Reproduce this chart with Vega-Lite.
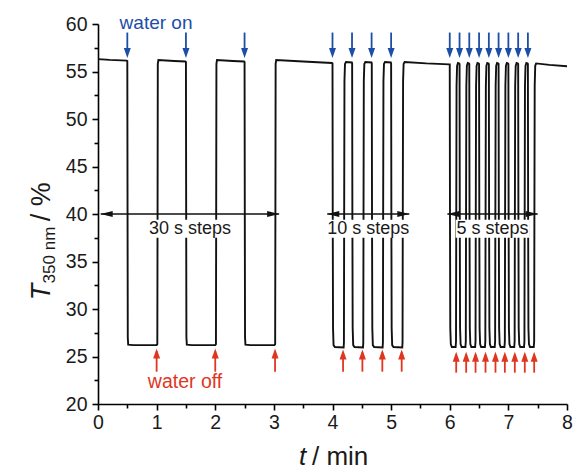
{
"$schema": "https://vega.github.io/schema/vega-lite/v6.json",
"width": 469, "height": 380,
"autosize": {"type": "none"},
"padding": {"left": 98, "top": 24, "right": 6, "bottom": 69},
"background": "white",
"config": {"view": {"stroke": null}, "font": "Liberation Sans"},
"datasets": {
"trace": [
{"t":0,"T":56.3},{"t":0.2,"T":56.22},{"t":0.49,"T":56.15},{"t":0.5,"T":56.1},{"t":0.504,"T":40},{"t":0.508,"T":27},{"t":0.515,"T":26.25},{"t":0.6,"T":26.2},{"t":1.0,"T":26.2},{"t":1.012,"T":26.3},{"t":1.016,"T":40},{"t":1.02,"T":55.8},{"t":1.03,"T":56.2},{"t":1.3,"T":56.1},{"t":1.49,"T":56.05},{"t":1.5,"T":56.0},
{"t":1.504,"T":40},{"t":1.508,"T":27},{"t":1.515,"T":26.25},{"t":1.6,"T":26.2},{"t":2.0,"T":26.2},{"t":2.012,"T":26.3},{"t":2.016,"T":40},{"t":2.02,"T":55.8},{"t":2.03,"T":56.2},{"t":2.3,"T":56.1},{"t":2.49,"T":56.05},{"t":2.5,"T":56.0},
{"t":2.504,"T":40},{"t":2.508,"T":27},{"t":2.515,"T":26.25},{"t":2.6,"T":26.2},{"t":3.01,"T":26.2},{"t":3.022,"T":26.3},{"t":3.026,"T":40},{"t":3.03,"T":55.8},{"t":3.04,"T":56.2},{"t":3.5,"T":56.05},{"t":3.99,"T":55.9},
{"t":4.0,"T":55.85},{"t":4.004,"T":40},{"t":4.009,"T":28},{"t":4.018,"T":26.2},{"t":4.04,"T":26.0},{"t":4.19,"T":25.95},{"t":4.195,"T":26.5},{"t":4.199,"T":40},{"t":4.204,"T":54},{"t":4.213,"T":55.8},{"t":4.23,"T":56.0},{"t":4.33,"T":55.95},
{"t":4.335,"T":55.85},{"t":4.339,"T":40},{"t":4.344,"T":28},{"t":4.353,"T":26.2},{"t":4.375,"T":26.0},{"t":4.52,"T":25.95},{"t":4.525,"T":26.5},{"t":4.529,"T":40},{"t":4.534,"T":54},{"t":4.543,"T":55.8},{"t":4.56,"T":56.0},{"t":4.665,"T":55.95},
{"t":4.67,"T":55.85},{"t":4.674,"T":40},{"t":4.679,"T":28},{"t":4.688,"T":26.2},{"t":4.71,"T":26.0},{"t":4.855,"T":25.95},{"t":4.86,"T":26.5},{"t":4.864,"T":40},{"t":4.869,"T":54},{"t":4.878,"T":55.8},{"t":4.895,"T":56.0},{"t":4.995,"T":55.95},
{"t":5.0,"T":55.85},{"t":5.004,"T":40},{"t":5.009,"T":28},{"t":5.018,"T":26.2},{"t":5.04,"T":26.0},{"t":5.19,"T":25.95},{"t":5.195,"T":26.5},{"t":5.199,"T":40},{"t":5.204,"T":54},{"t":5.213,"T":55.8},{"t":5.23,"T":56.0},{"t":5.6,"T":55.85},{"t":5.995,"T":55.75},
{"t":6.0,"T":55.75},{"t":6.004,"T":40},{"t":6.009,"T":28},{"t":6.018,"T":26.3},{"t":6.035,"T":26.0},{"t":6.1,"T":26.0},{"t":6.107,"T":26.6},{"t":6.111,"T":40},{"t":6.116,"T":53.5},{"t":6.125,"T":55.6},{"t":6.14,"T":55.9},{"t":6.162,"T":55.85},
{"t":6.167,"T":55.8},{"t":6.171,"T":40},{"t":6.176,"T":28},{"t":6.185,"T":26.3},{"t":6.202,"T":26.0},{"t":6.267,"T":26.0},{"t":6.274,"T":26.6},{"t":6.278,"T":40},{"t":6.283,"T":53.5},{"t":6.292,"T":55.6},{"t":6.307,"T":55.9},{"t":6.329,"T":55.85},
{"t":6.333,"T":55.8},{"t":6.337,"T":40},{"t":6.342,"T":28},{"t":6.351,"T":26.3},{"t":6.368,"T":26.0},{"t":6.433,"T":26.0},{"t":6.44,"T":26.6},{"t":6.444,"T":40},{"t":6.449,"T":53.5},{"t":6.458,"T":55.6},{"t":6.473,"T":55.9},{"t":6.495,"T":55.85},
{"t":6.5,"T":55.8},{"t":6.504,"T":40},{"t":6.509,"T":28},{"t":6.518,"T":26.3},{"t":6.535,"T":26.0},{"t":6.6,"T":26.0},{"t":6.607,"T":26.6},{"t":6.611,"T":40},{"t":6.616,"T":53.5},{"t":6.625,"T":55.6},{"t":6.64,"T":55.9},{"t":6.662,"T":55.85},
{"t":6.667,"T":55.8},{"t":6.671,"T":40},{"t":6.676,"T":28},{"t":6.685,"T":26.3},{"t":6.702,"T":26.0},{"t":6.767,"T":26.0},{"t":6.774,"T":26.6},{"t":6.778,"T":40},{"t":6.783,"T":53.5},{"t":6.792,"T":55.6},{"t":6.807,"T":55.9},{"t":6.829,"T":55.85},
{"t":6.833,"T":55.8},{"t":6.837,"T":40},{"t":6.842,"T":28},{"t":6.851,"T":26.3},{"t":6.868,"T":26.0},{"t":6.933,"T":26.0},{"t":6.94,"T":26.6},{"t":6.944,"T":40},{"t":6.949,"T":53.5},{"t":6.958,"T":55.6},{"t":6.973,"T":55.9},{"t":6.995,"T":55.85},
{"t":7.0,"T":55.8},{"t":7.004,"T":40},{"t":7.009,"T":28},{"t":7.018,"T":26.3},{"t":7.035,"T":26.0},{"t":7.1,"T":26.0},{"t":7.107,"T":26.6},{"t":7.111,"T":40},{"t":7.116,"T":53.5},{"t":7.125,"T":55.6},{"t":7.14,"T":55.9},{"t":7.162,"T":55.85},
{"t":7.167,"T":55.8},{"t":7.171,"T":40},{"t":7.176,"T":28},{"t":7.185,"T":26.3},{"t":7.202,"T":26.0},{"t":7.267,"T":26.0},{"t":7.274,"T":26.6},{"t":7.278,"T":40},{"t":7.283,"T":53.5},{"t":7.292,"T":55.6},{"t":7.307,"T":55.9},{"t":7.329,"T":55.85},
{"t":7.333,"T":55.8},{"t":7.337,"T":40},{"t":7.342,"T":28},{"t":7.351,"T":26.3},{"t":7.368,"T":26.0},{"t":7.433,"T":26.0},{"t":7.44,"T":26.6},{"t":7.444,"T":40},{"t":7.449,"T":53.5},{"t":7.458,"T":55.6},{"t":7.473,"T":55.85},{"t":7.7,"T":55.7},{"t":8.0,"T":55.55}
],
"on": [{"t":0.5},{"t":1.5},{"t":2.5},{"t":4.0},{"t":4.333},{"t":4.667},{"t":5.0},{"t":6.0},{"t":6.167},{"t":6.333},{"t":6.5},{"t":6.667},{"t":6.833},{"t":7.0},{"t":7.167},{"t":7.333}],
"off": [{"t":1.0,"tip":25.85,"base":23.4},{"t":2.0,"tip":25.85,"base":23.4},{"t":3.02,"tip":25.85,"base":23.4},
{"t":4.18,"tip":25.75,"base":23.4},{"t":4.51,"tip":25.75,"base":23.4},{"t":4.85,"tip":25.75,"base":23.4},{"t":5.18,"tip":25.75,"base":23.4},
{"t":6.11,"tip":25.5,"base":23.3},{"t":6.28,"tip":25.5,"base":23.3},{"t":6.44,"tip":25.5,"base":23.3},{"t":6.61,"tip":25.5,"base":23.3},{"t":6.78,"tip":25.5,"base":23.3},{"t":6.94,"tip":25.5,"base":23.3},{"t":7.11,"tip":25.5,"base":23.3},{"t":7.28,"tip":25.5,"base":23.3},{"t":7.44,"tip":25.5,"base":23.3}],
"spans": [{"label":"30 s steps","start":0.046,"end":3.09,"mid":1.57,"boxL":0.85,"boxR":2.28},
{"label":"10 s steps","start":3.91,"end":5.31,"mid":4.61,"boxL":3.92,"boxR":5.31},
{"label":"5 s steps","start":5.96,"end":7.5,"mid":6.73,"boxL":6.1,"boxR":7.36}]
},
"resolve": {"axis": {"x": "independent", "y": "independent"}},
"layer": [
{"data": {"name": "trace"},
 "mark": {"type": "line", "color": "#111111", "strokeWidth": 1.9},
 "encoding": {
  "x": {"field": "t", "type": "quantitative", "scale": {"domain": [0, 8], "nice": false, "zero": false},
   "axis": {"title": null, "grid": false, "values": [0,0.5,1,1.5,2,2.5,3,3.5,4,4.5,5,5.5,6,6.5,7,7.5,8],
    "labelExpr": "datum.value % 1 === 0 ? format(datum.value, 'd') : ''",
    "tickSize": {"condition": {"test": "datum.value % 1 !== 0", "value": 4}, "value": 6},
    "labelOverlap": false, "labelFlush": false, "labelBound": false,
    "domainColor": "#000000", "domainWidth": 1.6, "tickColor": "#000000", "tickWidth": 1.6, "domainOpacity": 1, "tickOpacity": 1,
    "labelFont": "Liberation Sans", "labelFontSize": 19.5, "labelColor": "#1a1a1a", "labelPadding": 3}},
  "y": {"field": "T", "type": "quantitative", "scale": {"domain": [20, 60], "nice": false, "zero": false},
   "axis": {"title": null, "grid": false, "values": [20,22.5,25,27.5,30,32.5,35,37.5,40,42.5,45,47.5,50,52.5,55,57.5,60],
    "labelExpr": "datum.value % 5 === 0 ? format(datum.value, 'd') : ''",
    "tickSize": {"condition": {"test": "datum.value % 5 !== 0", "value": 4}, "value": 6},
    "labelOverlap": false, "labelFlush": false, "labelBound": false,
    "domainColor": "#000000", "domainWidth": 1.6, "tickColor": "#000000", "tickWidth": 1.6, "domainOpacity": 1, "tickOpacity": 1,
    "labelFont": "Liberation Sans", "labelFontSize": 19.5, "labelColor": "#1a1a1a", "labelPadding": 5}}
 }},
{"data": {"name": "spans"},
 "mark": {"type": "rect", "color": "white"},
 "encoding": {"x": {"field": "boxL", "type": "quantitative", "axis": null}, "x2": {"field": "boxR"},
  "y": {"datum": 37.5, "axis": null}, "y2": {"datum": 39.4}}},
{"data": {"name": "spans"},
 "mark": {"type": "rule", "color": "#111111", "strokeWidth": 1.5},
 "encoding": {"x": {"field": "start", "type": "quantitative", "axis": null}, "x2": {"field": "end"},
  "y": {"datum": 40, "axis": null}}},
{"data": {"name": "spans"},
 "mark": {"type": "point", "filled": true, "color": "#111111", "opacity": 1, "size": 144, "shape": "M1,-0.5L-1,0L1,0.5Z"},
 "encoding": {"x": {"field": "start", "type": "quantitative", "axis": null}, "xOffset": {"value": 6},
  "y": {"datum": 40, "axis": null}}},
{"data": {"name": "spans"},
 "mark": {"type": "point", "filled": true, "color": "#111111", "opacity": 1, "size": 144, "shape": "M-1,-0.5L1,0L-1,0.5Z"},
 "encoding": {"x": {"field": "end", "type": "quantitative", "axis": null}, "xOffset": {"value": -6},
  "y": {"datum": 40, "axis": null}}},
{"data": {"name": "spans"},
 "mark": {"type": "text", "color": "#1a1a1a", "fontSize": 18, "font": "Liberation Sans", "baseline": "middle", "align": "center"},
 "encoding": {"x": {"field": "mid", "type": "quantitative", "axis": null},
  "y": {"datum": 38.4, "axis": null}, "text": {"field": "label"}}},
{"data": {"name": "on"},
 "mark": {"type": "rule", "color": "#1c4ea6", "strokeWidth": 1.8},
 "encoding": {"x": {"field": "t", "type": "quantitative", "axis": null},
  "y": {"datum": 59.1, "axis": null}, "y2": {"datum": 57.0}}},
{"data": {"name": "on"},
 "mark": {"type": "point", "filled": true, "color": "#1c4ea6", "opacity": 1, "size": 100, "shape": "M-0.7,-1L0.7,-1L0,1Z"},
 "encoding": {"x": {"field": "t", "type": "quantitative", "axis": null},
  "y": {"datum": 56.42, "axis": null}, "yOffset": {"value": -5}}},
{"data": {"name": "off"},
 "mark": {"type": "rule", "color": "#e0361f", "strokeWidth": 1.8},
 "encoding": {"x": {"field": "t", "type": "quantitative", "axis": null},
  "y": {"field": "tip", "type": "quantitative", "axis": null}, "y2": {"field": "base"}, "yOffset": {"value": 3}}},
{"data": {"name": "off"},
 "mark": {"type": "point", "filled": true, "color": "#e0361f", "opacity": 1, "size": 100, "shape": "M-0.7,1L0.7,1L0,-1Z"},
 "encoding": {"x": {"field": "t", "type": "quantitative", "axis": null},
  "y": {"field": "tip", "type": "quantitative", "axis": null}, "yOffset": {"value": 5}}},
{"data": {"values": [{"label": "water on"}]},
 "mark": {"type": "text", "color": "#1c4ea6", "fontSize": 19, "font": "Liberation Sans", "baseline": "alphabetic", "align": "center"},
 "encoding": {"x": {"datum": 0.99, "axis": null}, "y": {"datum": 59.45, "axis": null}, "text": {"field": "label"}}},
{"data": {"values": [{"label": "water off"}]},
 "mark": {"type": "text", "color": "#e0361f", "fontSize": 19.5, "font": "Liberation Sans", "baseline": "alphabetic", "align": "center"},
 "encoding": {"x": {"datum": 1.485, "axis": null}, "y": {"datum": 21.7, "axis": null}, "text": {"field": "label"}}},
{"data": {"values": [{"label": "t"}]},
 "mark": {"type": "text", "color": "#1a1a1a", "fontSize": 26, "font": "Liberation Sans", "fontStyle": "italic", "baseline": "alphabetic", "align": "right"},
 "encoding": {"x": {"datum": 3.55, "axis": null}, "y": {"datum": 13.6, "axis": null}, "text": {"field": "label"}}},
{"data": {"values": [{"label": "/ min"}]},
 "mark": {"type": "text", "color": "#1a1a1a", "fontSize": 26, "font": "Liberation Sans", "baseline": "alphabetic", "align": "left"},
 "encoding": {"x": {"datum": 3.65, "axis": null}, "y": {"datum": 13.6, "axis": null}, "text": {"field": "label"}}},
{"data": {"values": [{"label": "T"}]},
 "mark": {"type": "text", "color": "#1a1a1a", "fontSize": 27, "font": "Liberation Sans", "fontStyle": "italic", "baseline": "alphabetic", "align": "center", "angle": 270},
 "encoding": {"x": {"datum": -0.82, "axis": null}, "y": {"datum": 31.8, "axis": null}, "text": {"field": "label"}}},
{"data": {"values": [{"label": "350 nm"}]},
 "mark": {"type": "text", "color": "#1a1a1a", "fontSize": 17, "font": "Liberation Sans", "baseline": "alphabetic", "align": "center", "angle": 270},
 "encoding": {"x": {"datum": -0.73, "axis": null}, "y": {"datum": 35.68, "axis": null}, "text": {"field": "label"}}},
{"data": {"values": [{"label": "/ %"}]},
 "mark": {"type": "text", "color": "#1a1a1a", "fontSize": 27, "font": "Liberation Sans", "baseline": "alphabetic", "align": "center", "angle": 270},
 "encoding": {"x": {"datum": -0.82, "axis": null}, "y": {"datum": 41.3, "axis": null}, "text": {"field": "label"}}}
]
}
